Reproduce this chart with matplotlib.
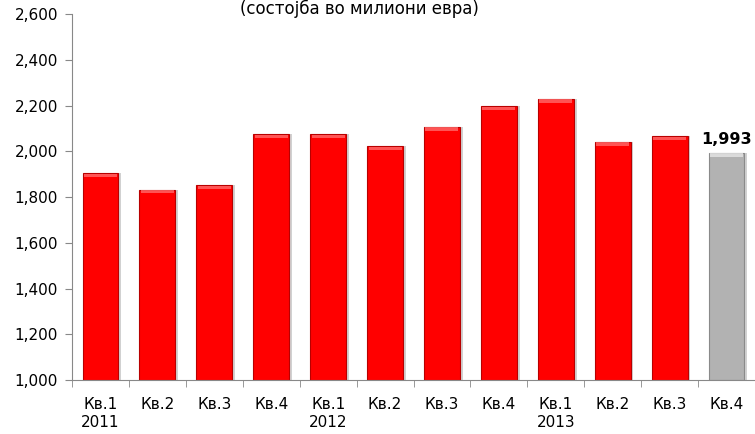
import matplotlib
matplotlib.use("Agg")
import matplotlib.pyplot as plt
import numpy as np

# -------------------- Data --------------------
quarters = ["Кв.1", "Кв.2", "Кв.3", "Кв.4",
            "Кв.1", "Кв.2", "Кв.3", "Кв.4",
            "Кв.1", "Кв.2", "Кв.3", "Кв.4"]
years = ["2011", "", "", "", "2012", "", "", "", "2013", "", "", ""]
values = [1903, 1832, 1851, 2074, 2074, 2022, 2106, 2197, 2229, 2041, 2065, 1993]
highlight_label = "1,993"

title = "(состојба во милиони евра)"

# -------------------- Figure --------------------
fig = plt.figure(figsize=(7.55, 4.34), dpi=100)
ax = fig.add_axes([0.0954, 0.1244, 0.9046, 0.8433])

x = np.arange(len(values))
width = 0.63
colors = ["#ff0000"] * (len(values) - 1) + ["#b2b2b2"]
edges = ["#b80000"] * (len(values) - 1) + ["#8a8a8a"]
tops = ["#ff6a6a"] * (len(values) - 1) + ["#e6e6e6"]
base = 1000

# soft shadow
ax.bar(x + 0.05, np.array(values) - base, width, bottom=base,
       color="#000000", alpha=0.18, zorder=1)
# bars
ax.bar(x, np.array(values) - base, width, bottom=base,
       color=colors, edgecolor=edges, linewidth=0.8, zorder=2)
# bevel highlight on top of each bar
ax.bar(x, [14] * len(values), width * 0.92, bottom=np.array(values) - 16,
       color=tops, linewidth=0, alpha=0.8, zorder=3)

ax.text(x[-1], values[-1] + 25, highlight_label, ha="center", va="bottom",
        fontsize=11.5, fontweight="bold", zorder=4)

# -------------------- Axes --------------------
ax.set_ylim(1000, 2600)
ax.set_xlim(-0.5, len(values) - 0.5)
ax.set_yticks(np.arange(1000, 2601, 200))
ax.set_yticklabels([f"{v:,}" for v in range(1000, 2601, 200)], fontsize=11)

ax.set_xticks(x)
ax.set_xticklabels([q + ("\n" + y if y else "") for q, y in zip(quarters, years)],
                   fontsize=11, va="top", linespacing=1.25)
ax.set_xticks(np.arange(-0.5, len(values)), minor=True)
ax.tick_params(axis="x", which="major", length=0, pad=12)
ax.tick_params(axis="x", which="minor", length=5, color="#888888")
ax.tick_params(axis="y", length=5, color="#888888", pad=5)

for s in ["top", "right"]:
    ax.spines[s].set_visible(False)
ax.spines["left"].set_color("#888888")
ax.spines["bottom"].set_color("#888888")

fig.text(0.476, 1.0, title, ha="center", va="top", fontsize=12)

fig.savefig("out.png", dpi=100)
